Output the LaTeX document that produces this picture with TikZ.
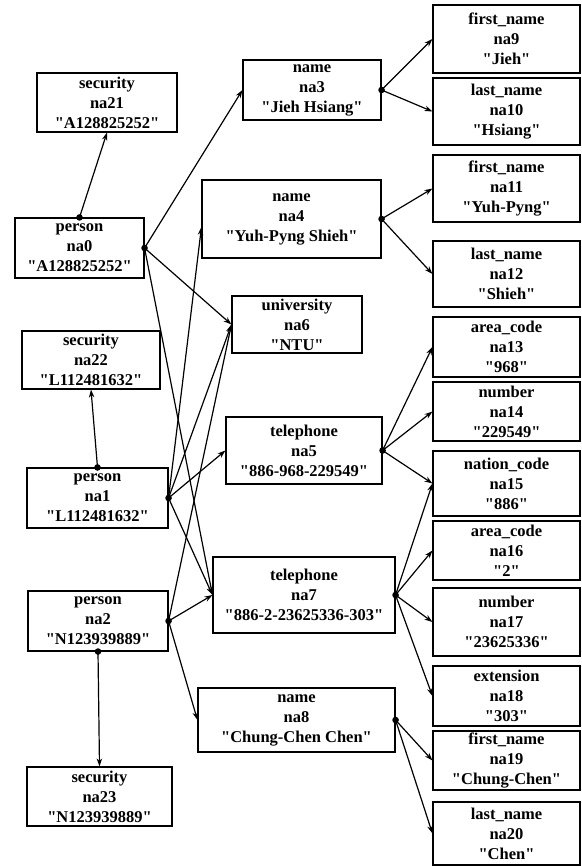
\documentclass[tikz,border=0pt]{standalone}
\usepackage{fontspec}
\setmainfont{Liberation Serif}[Ligatures=TeXOff]
\usetikzlibrary{arrows.meta}
\begin{document}
\begin{tikzpicture}[x=1pt,y=-1pt,
  box/.style={draw, line width=1.1pt, inner sep=0pt, align=center,
    font=\bfseries\fontsize{16.5}{20}\selectfont},
  link/.style={line width=1.2pt, -{Stealth[length=8pt,width=5.5pt]}},
  root/.style={fill, radius=3.3pt}]
\useasboundingbox (0,0) rectangle (581,866);

% persons and their security numbers
\node[box, minimum width=140pt, minimum height=59pt] (na21) at (107,102.5) {security\\na21\\"A128825252"};
\node[box, minimum width=129pt, minimum height=60pt] (na0)  at (79.5,248)  {person\\na0\\"A128825252"};
\node[box, minimum width=138pt, minimum height=58pt] (na22) at (91,360)    {security\\na22\\"L112481632"};
\node[box, minimum width=141pt, minimum height=60pt] (na1)  at (97.5,498)  {person\\na1\\"L112481632"};
\node[box, minimum width=140pt, minimum height=60pt] (na2)  at (98,621)    {person\\na2\\"N123939889"};
\node[box, minimum width=145pt, minimum height=59pt] (na23) at (99.5,796.5){security\\na23\\"N123939889"};

% shared middle objects
\node[box, minimum width=138pt, minimum height=60pt] (na3) at (312,90)    {name\\na3\\"Jieh Hsiang"};
\node[box, minimum width=179pt, minimum height=78pt] (na4) at (291.5,219) {name\\na4\\"Yuh-Pyng Shieh"};
\node[box, minimum width=130pt, minimum height=57pt] (na6) at (297,324.5) {university\\na6\\"NTU"};
\node[box, minimum width=156pt, minimum height=67pt] (na5) at (304,450.5) {telephone\\na5\\"886-968-229549"};
\node[box, minimum width=182pt, minimum height=76pt] (na7) at (304,595)   {telephone\\na7\\"886-2-23625336-303"};
\node[box, minimum width=197pt, minimum height=64pt] (na8) at (296.5,720) {name\\na8\\"Chung-Chen Chen"};

% leaf values
\node[box, minimum width=147pt, minimum height=68pt] (na9)  at (506.5,39)    {first\_name\\na9\\"Jieh"};
\node[box, minimum width=147pt, minimum height=67pt] (na10) at (506.5,111.5) {last\_name\\na10\\"Hsiang"};
\node[box, minimum width=147pt, minimum height=67pt] (na11) at (506.5,188.5) {first\_name\\na11\\"Yuh-Pyng"};
\node[box, minimum width=147pt, minimum height=66pt] (na12) at (506.5,274)   {last\_name\\na12\\"Shieh"};
\node[box, minimum width=147pt, minimum height=60pt] (na13) at (506.5,347)   {area\_code\\na13\\"968"};
\node[box, minimum width=147pt, minimum height=59pt] (na14) at (506.5,411.5) {number\\na14\\"229549"};
\node[box, minimum width=147pt, minimum height=65pt] (na15) at (506.5,483.5) {nation\_code\\na15\\"886"};
\node[box, minimum width=147pt, minimum height=59pt] (na16) at (506.5,550.5) {area\_code\\na16\\"2"};
\node[box, minimum width=147pt, minimum height=68pt] (na17) at (506.5,622)   {number\\na17\\"23625336"};
\node[box, minimum width=147pt, minimum height=60pt] (na18) at (506.5,696)   {extension\\na18\\"303"};
\node[box, minimum width=147pt, minimum height=59pt] (na19) at (506.5,760.5) {first\_name\\na19\\"Chung-Chen"};
\node[box, minimum width=147pt, minimum height=63pt] (na20) at (506.5,833.5) {last\_name\\na20\\"Chen"};

% edges from persons
\draw[link] (na0.north) -- (na21.south);
\draw[link] (na0.east) -- (na3.west);
\draw[link] (na0.east) -- (na6.west);
\draw[link] (na0.east) -- (na7.west);
\draw[link] (na1.north) -- (na22.south);
\draw[link] (na1.east) -- ([yshift=-8pt]na4.west);
\draw[link] (na1.east) -- (na6.west);
\draw[link] (na1.east) -- (na5.west);
\draw[link] (na1.east) -- (na7.west);
\draw[link] (na2.east) -- (na6.west);
\draw[link] (na2.east) -- (na7.west);
\draw[link] (na2.east) -- (na8.west);
\draw[link] (na2.south) -- (na23.north);

% edges from middle objects
\draw[link] (na3.east) -- (na9.west);
\draw[link] (na3.east) -- (na10.west);
\draw[link] (na4.east) -- (na11.west);
\draw[link] (na4.east) -- (na12.west);
\draw[link] (na5.east) -- (na13.west);
\draw[link] (na5.east) -- (na14.west);
\draw[link] (na5.east) -- (na15.west);
\draw[link] (na7.east) -- (na15.west);
\draw[link] (na7.east) -- (na16.west);
\draw[link] (na7.east) -- (na17.west);
\draw[link] (na7.east) -- (na18.west);
\draw[link] (na8.east) -- (na19.west);
\draw[link] (na8.east) -- (na20.west);

% source dots
\foreach \p in {na0.north, na0.east, na1.north, na1.east, na2.east, na2.south,
                na3.east, na4.east, na5.east, na7.east, na8.east}
  \fill[root] (\p) circle;
\end{tikzpicture}
\end{document}
